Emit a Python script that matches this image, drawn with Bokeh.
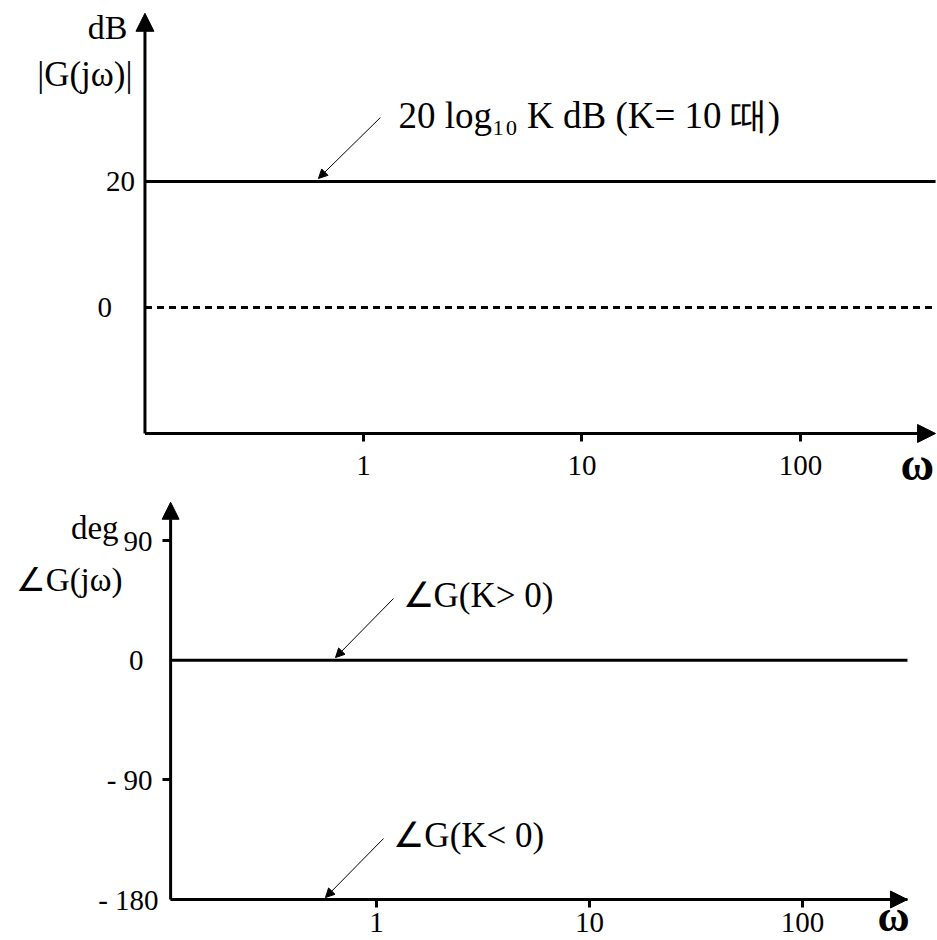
from bokeh.plotting import figure
from bokeh.layouts import column
from bokeh.models import (LogAxis, LinearAxis, FixedTicker, BasicTickFormatter,
                          Arrow, NormalHead, Label, Range1d)
from bokeh.embed import file_html
from bokeh.resources import INLINE

# ---------------- data ----------------
omega_ticks = [1, 10, 100]
omega_tick_labels = ["1", "10", "100"]

mag_ticks = [20, 0]
mag_tick_labels = ["20", "0"]

phase_ticks = [90, 0, -90, -180]
phase_tick_labels = ["90", "0", "- 90", "- 180"]

# magnitude plot: 20 log10 K for K = 10, and the 0 dB reference
omega_mag = [0.1, 415]
mag_K10 = [20, 20]
mag_0dB = [0, 0]

# phase plot: K > 0 -> 0 deg, K < 0 -> -180 deg
omega_phase = [0.108, 311]
phase_Kpos = [0, 0]
phase_Kneg = [-180, -180]

SERIF = "Liberation Serif"
TICK_FONT = "29px"


def base_fig(w, h, xr, yr):
    p = figure(width=w, height=h, x_axis_type="log",
               x_axis_location=None, y_axis_location=None,
               x_range=Range1d(*xr), y_range=Range1d(*yr),
               toolbar_location=None, output_backend="svg",
               min_border=0, min_border_left=0, min_border_right=0,
               min_border_top=0, min_border_bottom=0,
               outline_line_color=None, background_fill_color="white",
               border_fill_color="white")
    p.grid.visible = False
    return p


def style_axis(ax, tick_out, standoff):
    ax.axis_line_color = None
    ax.major_tick_out = tick_out
    ax.major_tick_in = 0
    ax.minor_tick_out = 0
    ax.minor_tick_in = 0
    ax.major_tick_line_width = 3
    ax.major_tick_line_color = "black"
    ax.major_label_standoff = standoff
    ax.major_label_text_font = SERIF
    ax.major_label_text_font_size = TICK_FONT
    ax.major_label_text_color = "black"


def y_axis(p, loc, ticks, labels, tick_out, standoff):
    ax = LinearAxis(fixed_location=loc, ticker=FixedTicker(ticks=ticks),
                    formatter=BasicTickFormatter(),
                    major_label_overrides=dict(zip(ticks, labels)))
    style_axis(ax, tick_out, standoff)
    p.add_layout(ax, "left")


def x_axis(p, loc, standoff):
    ax = LogAxis(fixed_location=loc, ticker=FixedTicker(ticks=omega_ticks),
                 formatter=BasicTickFormatter(),
                 major_label_overrides=dict(zip(omega_ticks, omega_tick_labels)))
    style_axis(ax, 8, standoff)
    p.add_layout(ax, "below")


def axis_arrow(p, xs, ys, xe, ye, size):
    p.add_layout(Arrow(end=NormalHead(size=size, fill_color="black", line_color="black"),
                       x_start=xs, y_start=ys, x_end=xe, y_end=ye,
                       line_width=3, line_color="black"))


def pointer(p, xs, ys, xe, ye):
    p.add_layout(Arrow(end=NormalHead(size=9, fill_color="black", line_color="black",
                                      line_width=1),
                       x_start=xs, y_start=ys, x_end=xe, y_end=ye,
                       line_width=1, line_color="black"))


def label(p, x, y, text, size, align="left", bold=False):
    p.add_layout(Label(x=x, y=y, text=text, text_font=SERIF,
                       text_font_size=size, text_align=align,
                       text_baseline="middle", text_color="black",
                       text_font_style="bold" if bold else "normal"))


# ---------------- magnitude panel ----------------
p1 = base_fig(937, 492, (0.02182, 423.6), (-29.37, 48.73))
x0_top = omega_mag[0]
ybot_top = -20

p1.line(omega_mag, mag_K10, line_width=3, line_color="black")
p1.line(omega_mag, mag_0dB, line_width=3, line_color="black", line_dash="7 5")

axis_arrow(p1, x0_top, ybot_top, x0_top, 46.7, 18)
axis_arrow(p1, x0_top, ybot_top, 415, ybot_top, 18)

y_axis(p1, x0_top, [mag_ticks[0]], [mag_tick_labels[0]], 0, 10)
y_axis(p1, x0_top, [mag_ticks[1]], [mag_tick_labels[1]], 0, 33)
x_axis(p1, ybot_top, 15)

label(p1, 0.0832, 44.5, "dB", "34px", align="right")
label(p1, 0.0877, 37.0, "|G(jω)|", "35px", align="right")
label(p1, 1.446, 30.4, "20 log₁₀ K dB (K= 10 때)", "37px")
label(p1, 287, -24.9, "ω", "46px", bold=True)
pointer(p1, 1.196, 30.16, 0.622, 20.48)

# ---------------- phase panel ----------------
p2 = base_fig(937, 448, (0.01717, 430.3), (-210.8, 126.13))
x0_bot = omega_phase[0]
ybot_bot = phase_Kneg[0]

p2.line(omega_phase, phase_Kpos, line_width=3, line_color="black")
p2.line(omega_phase, phase_Kneg, line_width=3, line_color="black")

axis_arrow(p2, x0_bot, ybot_bot, x0_bot, 118.8, 17)
axis_arrow(p2, x0_bot, ybot_bot, omega_phase[1], ybot_bot, 17)

y_axis(p2, x0_bot, [phase_ticks[0], phase_ticks[2]],
       [phase_tick_labels[0], phase_tick_labels[2]], 8, 10)
y_axis(p2, x0_bot, [phase_ticks[1]], [phase_tick_labels[1]], 0, 27)
y_axis(p2, x0_bot, [phase_ticks[3]], [phase_tick_labels[3]], 0, 12)
x_axis(p2, ybot_bot, 5)

label(p2, 0.0615, 99.8, "deg", "33px", align="right")
label(p2, 0.0642, 60.3, "∠G(jω)", "33px", align="right")
label(p2, 1.325, 48.3, "∠G(K> 0)", "35px")
label(p2, 1.20, -131.5, "∠G(K< 0)", "35px")
label(p2, 225, -192.5, "ω", "44px", bold=True)
pointer(p2, 1.202, 46.4, 0.642, 2.0)
pointer(p2, 1.079, -134.1, 0.576, -178.5)

layout = column(p1, p2, spacing=0)
open("out.html", "w").write(file_html(layout, INLINE))
